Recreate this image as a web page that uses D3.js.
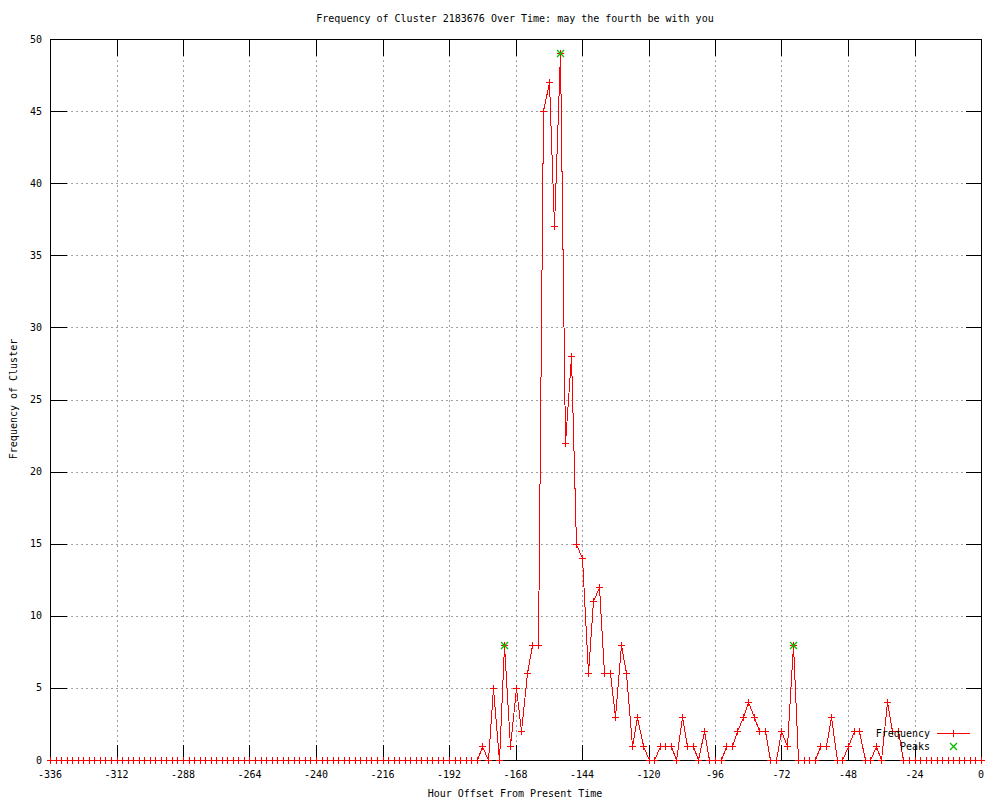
<!DOCTYPE html>
<html><head><meta charset="utf-8">
<script src="https://cdn.jsdelivr.net/npm/d3@7"></script>
<style>
body{margin:0;background:#fff}
svg{display:block}
text{font-family:"DejaVu Sans Mono","Liberation Mono",monospace;font-size:10px;fill:#000}
</style>
</head><body>
<svg id="c" width="1000" height="800"></svg>
<script>
const title = "Frequency of Cluster 2183676 Over Time: may the fourth be with you";
const xLabel = "Hour Offset From Present Time";
const yLabel = "Frequency of Cluster";
const legendLabels = ["Frequency", "Peaks"];

// hour offsets, every 2 hours from -336 to 0
const hours = d3.range(-336, 1, 2);
const frequency = [
  0,0,0,0,0,0,0,0,0,0, 0,0,0,0,0,0,0,0,0,0,
  0,0,0,0,0,0,0,0,0,0, 0,0,0,0,0,0,0,0,0,0,
  0,0,0,0,0,0,0,0,0,0, 0,0,0,0,0,0,0,0,0,0,
  0,0,0,0,0,0,0,0,0,0, 0,0,0,0,0,0,0,0,
  1,0,5,0,8,1,5,2,6,8,
  8,45,47,37,49,22,28,15,14,6,
  11,12,6,6,3,8,6,1,3,1,
  0,0,1,1,1,0,3,1,1,0,
  2,0,0,0,1,1,2,3,4,3,
  2,2,0,0,2,1,8,0,0,0,
  0,1,1,3,0,0,1,2,2,0,
  0,1,0,4,2,2,0,
  0,0,0,0,0,0,0,0,0,0,0,0,0,0
];
const peakHours = [-172, -152, -68];
const peakValues = [8, 49, 8];
const xTicks = [-336,-312,-288,-264,-240,-216,-192,-168,-144,-120,-96,-72,-48,-24,0];
const yTicks = [0,5,10,15,20,25,30,35,40,45,50];

const svg = d3.select("#c");
const L = 50, R = 981, T = 39, B = 760;
const x = d3.scaleLinear().domain([-336, 0]).range([L, R]);
const y = d3.scaleLinear().domain([0, 50]).range([B, T]);
const px = v => Math.round(x(v)) + 0.5;
const py = v => Math.round(y(v)) + 0.5;
const TIC = 16;
const GREEN = "#00c000";

// grid
const grid = svg.append("g").attr("stroke", "#a0a0a0").attr("stroke-dasharray", "2,3").attr("shape-rendering", "crispEdges");
xTicks.forEach(t => grid.append("line").attr("x1", px(t)).attr("x2", px(t)).attr("y1", T + 0.5).attr("y2", B + 0.5));
yTicks.forEach(t => grid.append("line").attr("x1", L + 0.5).attr("x2", R + 0.5).attr("y1", py(t)).attr("y2", py(t)));

// border
svg.append("rect").attr("x", L + 0.5).attr("y", T + 0.5).attr("width", R - L).attr("height", B - T)
  .attr("fill", "none").attr("stroke", "#000").attr("shape-rendering", "crispEdges");

// ticks (inward, mirrored)
const tk = svg.append("g").attr("stroke", "#000").attr("shape-rendering", "crispEdges");
xTicks.forEach(t => {
  tk.append("line").attr("x1", px(t)).attr("x2", px(t)).attr("y1", B + 0.5).attr("y2", B + 0.5 - TIC);
  tk.append("line").attr("x1", px(t)).attr("x2", px(t)).attr("y1", T + 0.5).attr("y2", T + 0.5 + TIC);
});
yTicks.forEach(t => {
  tk.append("line").attr("x1", L + 0.5).attr("x2", L + 0.5 + TIC).attr("y1", py(t)).attr("y2", py(t));
  tk.append("line").attr("x1", R + 0.5).attr("x2", R + 0.5 - TIC).attr("y1", py(t)).attr("y2", py(t));
});

// tick labels
xTicks.forEach(t => svg.append("text").attr("x", x(t)).attr("y", 774).attr("dy", "0.35em")
  .attr("text-anchor", "middle").text(t));
yTicks.forEach(t => svg.append("text").attr("x", 42).attr("y", y(t)).attr("dy", "0.35em")
  .attr("text-anchor", "end").text(t));

// titles
svg.append("text").attr("x", 515).attr("y", 18).attr("dy", "0.35em").attr("text-anchor", "middle").text(title);
svg.append("text").attr("x", 515).attr("y", 793).attr("dy", "0.35em").attr("text-anchor", "middle").text(xLabel);
svg.append("text").attr("transform", "translate(13,399) rotate(-90)").attr("dy", "0.35em")
  .attr("text-anchor", "middle").text(yLabel);

// data line
const data = hours.map((h, i) => ({h, v: frequency[i]}));
const line = d3.line().x(d => px(d.h)).y(d => py(d.v));
svg.append("path").datum(data).attr("d", line).attr("fill", "none").attr("stroke", "#ff0000")
  .attr("stroke-width", 1).attr("shape-rendering", "crispEdges");

const plusPath = (cx, cy) => `M${cx - 3.5},${cy}h7M${cx},${cy - 3.5}v7`;
const crossPath = (cx, cy) => `M${cx - 3.5},${cy - 3.5}L${cx + 3.5},${cy + 3.5}M${cx - 3.5},${cy + 3.5}L${cx + 3.5},${cy - 3.5}`;

svg.append("g").selectAll("path").data(data).join("path")
  .attr("d", d => plusPath(px(d.h), py(d.v))).attr("stroke", "#ff0000").attr("fill", "none")
  .attr("shape-rendering", "crispEdges");

// peaks
svg.append("g").selectAll("path").data(peakHours.map((h, i) => ({h, v: peakValues[i]}))).join("path")
  .attr("d", d => crossPath(px(d.h), py(d.v))).attr("stroke", GREEN).attr("stroke-width", 1.4).attr("fill", "none");

// legend
const lg = svg.append("g");
lg.append("text").attr("x", 930).attr("y", 733).attr("dy", "0.35em").attr("text-anchor", "end").text(legendLabels[0]);
lg.append("text").attr("x", 930).attr("y", 746).attr("dy", "0.35em").attr("text-anchor", "end").text(legendLabels[1]);
lg.append("line").attr("x1", 937).attr("x2", 970).attr("y1", 733.5).attr("y2", 733.5).attr("stroke", "#ff0000")
  .attr("shape-rendering", "crispEdges");
lg.append("path").attr("d", plusPath(953.5, 733.5)).attr("stroke", "#ff0000").attr("fill", "none").attr("shape-rendering", "crispEdges");
lg.append("path").attr("d", crossPath(953.5, 746.5)).attr("stroke", GREEN).attr("stroke-width", 1.4).attr("fill", "none");
</script>
</body></html>
